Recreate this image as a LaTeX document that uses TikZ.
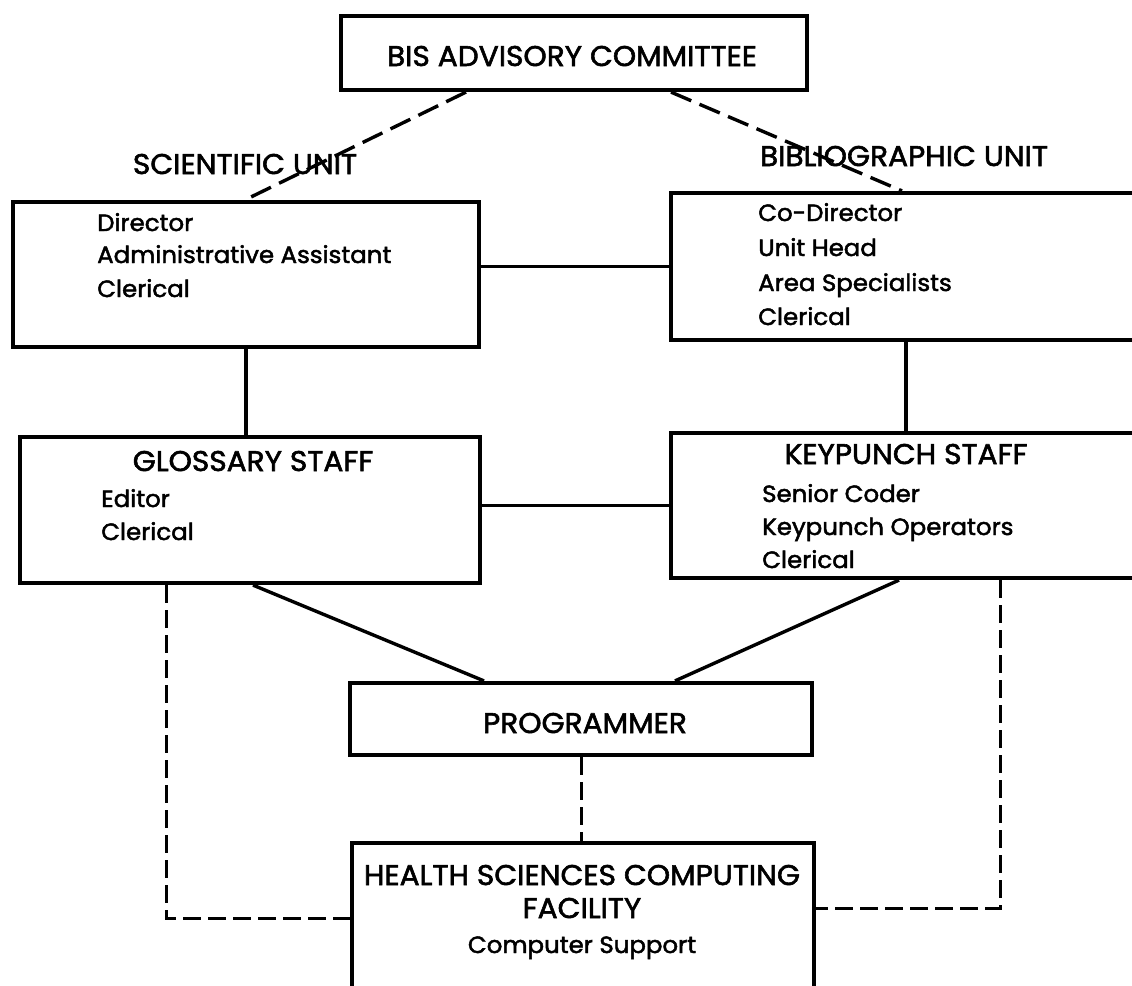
\documentclass[tikz,border=0pt]{standalone}
\usepackage{fontspec}
\setmainfont{Poppins}[FakeStretch=1.04, FakeBold=2]
\begin{document}
\begin{tikzpicture}[x=1pt,y=-1pt,
  unitbox/.style={draw, line width=4.2pt, inner sep=0pt},
  link/.style={line width=3.4pt},
  dashA/.style={line width=3.4pt, dash pattern=on 22pt off 9pt},
  dashB/.style={line width=3pt, dash pattern=on 18pt off 7pt},
  head/.style={inner sep=0pt, anchor=base, font=\fontsize{28.5}{33}\selectfont},
  item/.style={inner sep=0pt, anchor=base west, font=\fontsize{23.5}{33}\selectfont},
  itemc/.style={inner sep=0pt, anchor=base, font=\fontsize{23.5}{33}\selectfont}]
\useasboundingbox (0,0) rectangle (1132,985);
\begin{scope}
\clip (0,0) rectangle (1132,985);
% boxes
\node (bis)  [unitbox, minimum width=466pt, minimum height=74pt]  at (574,53) {};
\node (sci)  [unitbox, minimum width=466pt, minimum height=145pt] at (246,274.5) {};
\node (bib)  [unitbox, minimum width=509pt, minimum height=147pt] at (925.5,266.5) {};
\node (glos) [unitbox, minimum width=460pt, minimum height=146pt] at (250,510) {};
\node (key)  [unitbox, minimum width=509pt, minimum height=145pt] at (925.5,505.5) {};
\node (prog) [unitbox, minimum width=462pt, minimum height=72pt]  at (581,719) {};
\node (hscf) [unitbox, minimum width=462pt, minimum height=197pt] at (583,941.5) {};

% connectors
\draw[dashA] ([xshift=-108pt]bis.south) -- ([xshift=-1pt]sci.north);
\draw[dashA] ([xshift=97pt]bis.south) -- ([xshift=-23.5pt]bib.north);
\draw[link] (sci.east |- bib.west) -- (bib.west);
\draw[link] (sci.south) -- (glos.north -| sci.south);
\draw[link] ([xshift=-19.5pt]bib.south) -- ([xshift=-19.5pt]key.north);
\draw[link] (glos.east |- key.west) -- (key.west);
\draw[link] ([xshift=3pt]glos.south) -- ([xshift=-97pt]prog.north);
\draw[link] ([xshift=-26.5pt]key.south) -- ([xshift=94pt]prog.north);
\draw[dashB] (prog.south) -- (hscf.north -| prog.south);
\draw[dashB] ([xshift=-84pt]glos.south) |- ([yshift=23.5pt]hscf.west);
\draw[dashB] ([xshift=74.5pt]key.south) |- ([yshift=33.5pt]hscf.east);

% texts
\node (bisT)  [head] at (572,66)  {BIS ADVISORY COMMITTEE};
\node (sciU)  [head] at (245,174) {SCIENTIFIC UNIT};
\node (bibU)  [head] at (904,166) {BIBLIOGRAPHIC UNIT};

\node (sci1) [item] at (97,231) {Director};
\node (sci2) [item] at (97,263) {Administrative Assistant};
\node (sci3) [item] at (97,297) {Clerical};

\node (bib1) [item] at (758,221) {Co-Director};
\node (bib2) [item] at (758,256) {Unit Head};
\node (bib3) [item] at (758,291) {Area Specialists};
\node (bib4) [item] at (758,325) {Clerical};

\node (glosT) [head] at (253,471) {GLOSSARY STAFF};
\node (glos1) [item] at (101,507) {Editor};
\node (glos2) [item] at (101,540) {Clerical};

\node (keyT) [head] at (906,464) {KEYPUNCH STAFF};
\node (key1) [item] at (762,502) {Senior Coder};
\node (key2) [item] at (762,535) {Keypunch Operators};
\node (key3) [item] at (762,568) {Clerical};

\node (progT) [head] at (585,733) {PROGRAMMER};

\node (hscf1) [head] at (582,885) {HEALTH SCIENCES COMPUTING};
\node (hscf2) [head] at (582,918) {FACILITY};
\node (hscf3) [itemc] at (582,953) {Computer Support};
\end{scope}
\end{tikzpicture}
\end{document}
